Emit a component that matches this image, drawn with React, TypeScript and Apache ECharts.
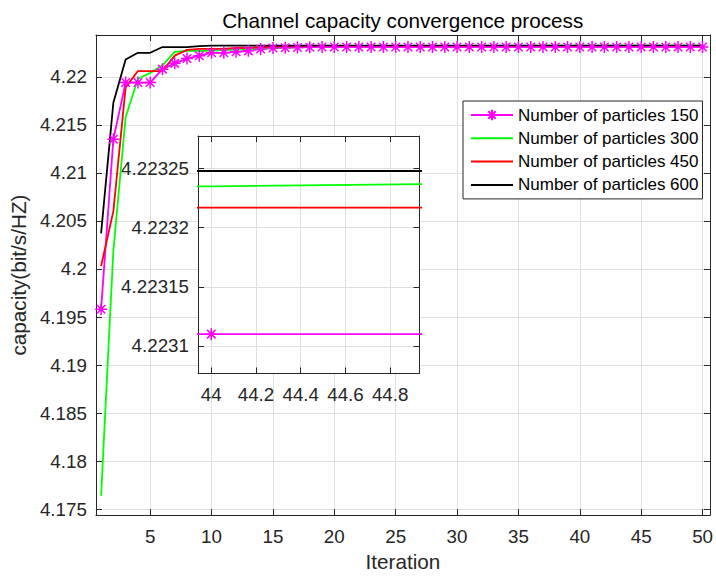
import React, { useEffect, useRef } from 'react';
import * as echarts from 'echarts';

// ---------------- data ----------------
const iterations = [
  1, 2, 3, 4, 5, 6, 7, 8, 9, 10, 11, 12, 13, 14, 15, 16, 17, 18, 19, 20, 21, 22, 23, 24, 25,
  26, 27, 28, 29, 30, 31, 32, 33, 34, 35, 36, 37, 38, 39, 40, 41, 42, 43, 44, 45, 46, 47, 48, 49, 50,
];

const particles150 = [
  4.1958, 4.2135, 4.2194, 4.2194, 4.2194, 4.2208, 4.2214, 4.2219, 4.2222, 4.2225,
  4.2225, 4.2226, 4.2227, 4.2229, 4.223, 4.22303, 4.22306, 4.22308, 4.2231, 4.22311,
  4.22311, 4.22311, 4.22311, 4.22311, 4.22311, 4.22311, 4.22311, 4.22311, 4.22311, 4.22311,
  4.22311, 4.22311, 4.22311, 4.22311, 4.22311, 4.22311, 4.22311, 4.22311, 4.22311, 4.22311,
  4.22311, 4.22311, 4.22311, 4.22311, 4.22311, 4.22311, 4.22311, 4.22311, 4.22311, 4.22311,
];

const particles300 = [
  4.1764, 4.2019, 4.2158, 4.2198, 4.2204, 4.2212, 4.2226, 4.2227, 4.2227, 4.2227,
  4.2228, 4.2228, 4.2229, 4.2229, 4.223, 4.22305, 4.2231, 4.22315, 4.2232, 4.22321,
  4.22322, 4.22322, 4.22322, 4.22322, 4.22322, 4.223225, 4.223225, 4.223225, 4.223225, 4.223228,
  4.223228, 4.223228, 4.22323, 4.22323, 4.22323, 4.22323, 4.223232, 4.223232, 4.223232, 4.223233,
  4.223233, 4.223234, 4.223234, 4.223235, 4.223237, 4.223238, 4.223238, 4.223239, 4.223239, 4.22324,
];

const particles450 = [
  4.2003, 4.206, 4.2189, 4.2206, 4.2206, 4.2206, 4.2222, 4.2228, 4.2229, 4.2229,
  4.2229, 4.223, 4.223, 4.2231, 4.2231, 4.22315, 4.2232, 4.223217, 4.223217, 4.223217,
  4.223217, 4.223217, 4.223217, 4.223217, 4.223217, 4.223217, 4.223217, 4.223217, 4.223217, 4.223217,
  4.223217, 4.223217, 4.223217, 4.223217, 4.223217, 4.223217, 4.223217, 4.223217, 4.223217, 4.223217,
  4.223217, 4.223217, 4.223217, 4.223217, 4.223217, 4.223217, 4.223217, 4.223217, 4.223217, 4.223217,
];

const particles600 = [
  4.2037, 4.2173, 4.2218, 4.2225, 4.2225, 4.2231, 4.2231, 4.2231, 4.2232, 4.223248,
  4.223248, 4.223248, 4.223248, 4.223248, 4.223248, 4.223248, 4.223248, 4.223248, 4.223248, 4.223248,
  4.223248, 4.223248, 4.223248, 4.223248, 4.223248, 4.223248, 4.223248, 4.223248, 4.223248, 4.223248,
  4.223248, 4.223248, 4.223248, 4.223248, 4.223248, 4.223248, 4.223248, 4.223248, 4.223248, 4.223248,
  4.223248, 4.223248, 4.223248, 4.223248, 4.223248, 4.223248, 4.223248, 4.223248, 4.223248, 4.223248,
];

const seriesNames = [
  'Number of particles 150',
  'Number of particles 300',
  'Number of particles 450',
  'Number of particles 600',
];
const seriesColors = ['#ff00ff', '#00ff00', '#ff0000', '#000000'];

const mainXTicks = [5, 10, 15, 20, 25, 30, 35, 40, 45, 50];
const mainYTicks = [4.175, 4.18, 4.185, 4.19, 4.195, 4.2, 4.205, 4.21, 4.215, 4.22];
const insetXTicks = [44, 44.2, 44.4, 44.6, 44.8];
const insetYTicks = [4.2231, 4.22315, 4.2232, 4.22325];

const titleText = 'Channel capacity convergence process';
const xName = 'Iteration';
const yName = 'capacity(bit/s/HZ)';

// ---------------- style ----------------
const AX = '#262626';
const GRIDC = '#dfdfdf';
const FONT = '"Liberation Sans", Arial, Helvetica, sans-serif';
const STAR = 'path://M0 -10 L0 10 M-10 0 L10 0 M-7.07 -7.07 L7.07 7.07 M-7.07 7.07 L7.07 -7.07';

const fmt = (v: number) => String(parseFloat(Number(v).toFixed(6)));

function buildAxisPair(
  kind: 'x' | 'y',
  gridIndex: number,
  min: number,
  max: number,
  ticks: number[],
  z: number,
  margin: number,
  name?: string,
  nameGap?: number,
) {
  const main: any = {
    type: 'value',
    gridIndex,
    min,
    max,
    z,
    position: kind === 'x' ? 'bottom' : 'left',
    axisLine: { show: true, onZero: false, lineStyle: { color: AX, width: 1 } },
    axisTick: { show: true, inside: true, length: 6, customValues: ticks, lineStyle: { color: AX, width: 1 } },
    axisLabel: {
      show: true,
      customValues: ticks,
      color: AX,
      fontSize: 18.8,
      fontFamily: FONT,
      margin,
      formatter: fmt,
      showMinLabel: true,
      showMaxLabel: true,
    },
    splitLine: { show: true, lineStyle: { color: GRIDC, width: 1 } },
  };
  if (name) {
    main.name = name;
    main.nameLocation = 'middle';
    main.nameGap = nameGap;
    main.nameTextStyle = { fontSize: 20.7, color: AX, fontFamily: FONT };
  }
  const mirror: any = {
    type: 'value',
    gridIndex,
    min,
    max,
    z,
    position: kind === 'x' ? 'top' : 'right',
    axisLine: { show: true, onZero: false, lineStyle: { color: AX, width: 1 } },
    axisTick: { show: true, inside: true, length: 6, customValues: ticks, lineStyle: { color: AX, width: 1 } },
    axisLabel: { show: false },
    splitLine: { show: false },
  };
  return [main, mirror];
}

export default function App() {
  const ref = useRef<HTMLDivElement>(null);

  useEffect(() => {
    if (!ref.current) return;
    const chart = echarts.init(ref.current, undefined, { renderer: 'svg' });

    const allData = [particles150, particles300, particles450, particles600];
    const pairs = allData.map((arr) => arr.map((v, i) => [iterations[i], v]));

    const xAxes = [
      ...buildAxisPair('x', 0, 0.578, 50.6, mainXTicks, 0, 12, xName, 34),
      ...buildAxisPair('x', 1, 43.9406, 44.931, insetXTicks, 1, 11),
    ];
    const yAxes = [
      ...buildAxisPair('y', 0, 4.174383, 4.224352, mainYTicks, 0, 9, yName, 61),
      ...buildAxisPair('y', 1, 4.2230767, 4.2232776, insetYTicks, 1, 9),
    ];

    const makeSeries = (idx: number, xAxisIndex: number, yAxisIndex: number, z: number) => {
      const isStar = idx === 0;
      return {
        type: 'line',
        name: seriesNames[idx],
        xAxisIndex,
        yAxisIndex,
        z,
        data: pairs[idx],
        clip: true,
        silent: true,
        symbol: isStar ? STAR : 'none',
        symbolSize: 12,
        showSymbol: isStar,
        showAllSymbol: true,
        lineStyle: { color: seriesColors[idx], width: 1.8 },
        itemStyle: { color: seriesColors[idx], borderColor: seriesColors[idx], borderWidth: 1.5 },
        emphasis: { disabled: true },
      };
    };

    const series: any[] = [];
    for (let i = 0; i < 4; i++) series.push(makeSeries(i, 0, 0, 2));
    for (let i = 0; i < 4; i++) series.push(makeSeries(i, 2, 2, 3));

    const legendData = seriesNames.map((name, i) =>
      i === 0 ? { name } : { name, itemStyle: { opacity: 0 } },
    );

    chart.setOption({
      animation: false,
      backgroundColor: '#ffffff',
      textStyle: { fontFamily: FONT },
      grid: [
        { left: 95, top: 35, width: 616, height: 486, show: true, backgroundColor: '#ffffff', borderColor: AX, borderWidth: 0, z: 0 },
        { left: 198, top: 136, width: 221.5, height: 237.5, show: true, backgroundColor: '#ffffff', borderColor: AX, borderWidth: 0, z: 1 },
      ],
      xAxis: xAxes,
      yAxis: yAxes,
      legend: {
        data: legendData,
        orient: 'vertical',
        left: 463,
        top: 101,
        padding: [4, 4, 4, 7],
        itemWidth: 42,
        itemHeight: 13,
        itemGap: 3.3,
        backgroundColor: '#ffffff',
        borderColor: AX,
        borderWidth: 1,
        borderRadius: 0,
        selectedMode: false,
        textStyle: { fontSize: 17, color: '#000000', fontFamily: FONT, lineHeight: 20 },
      },
      graphic: [
        {
          type: 'text',
          x: 402.7,
          y: 20,
          style: {
            text: titleText,
            fill: '#000000',
            fontSize: 20.7,
            fontFamily: FONT,
            textAlign: 'center',
            textVerticalAlign: 'middle',
          },
        },
      ],
      series,
    });

    return () => chart.dispose();
  }, []);

  return (
    <div
      ref={ref}
      style={{ position: 'fixed', left: 0, top: 0, width: 716, height: 577, background: '#fff' }}
    />
  );
}
